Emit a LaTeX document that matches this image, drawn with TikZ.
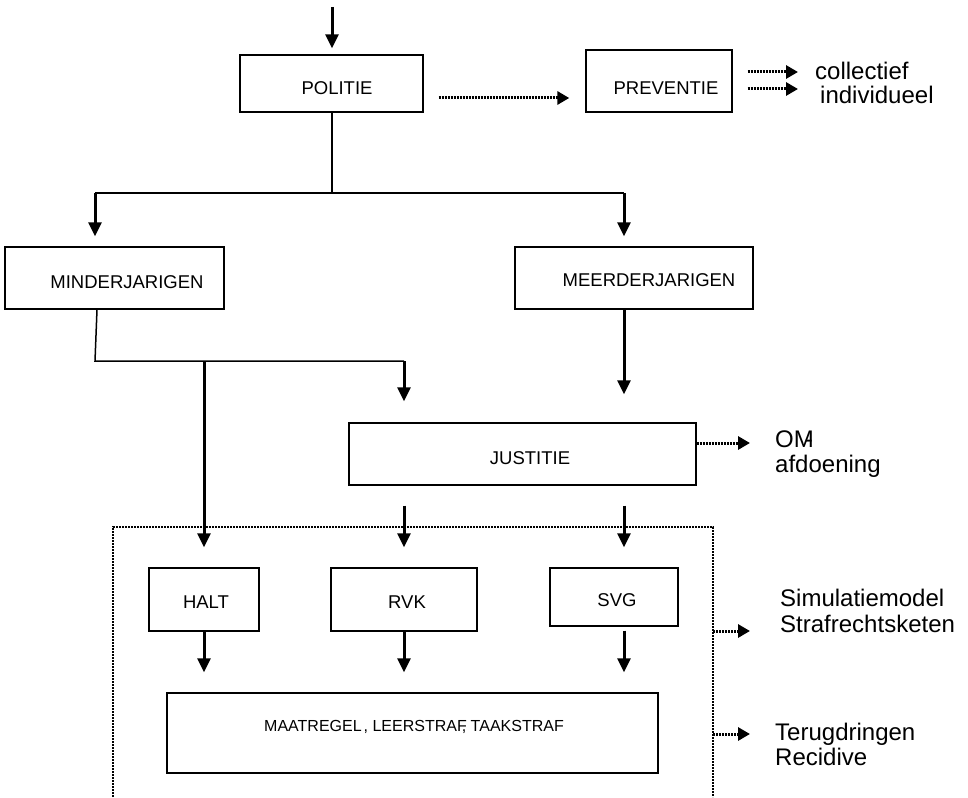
\documentclass[tikz,border=0pt]{standalone}
\usepackage{fontspec}
\setmainfont{Liberation Sans}
\usetikzlibrary{arrows.meta}

\begin{document}
\begin{tikzpicture}[x=1pt,y=-1pt,
  box/.style={draw,line width=1.4pt,inner sep=0pt},
  lbl/.style={font=\fontsize{18.5}{22}\selectfont,inner sep=0pt},
  side/.style={font=\fontsize{24}{28}\selectfont,inner sep=0pt,anchor=base west},
  conn/.style={line width=1.5pt},
  arr/.style={line width=3pt,-{Triangle[width=13pt,length=14pt]}},
  dots/.style={line width=3pt,dash pattern=on 2pt off 1pt,-{Triangle[width=13pt,length=12pt]}},
  frame/.style={line width=2.8pt,dash pattern=on 2pt off 1pt}]
\useasboundingbox (0,0) rectangle (968,797);

% boxes
\node[box,minimum width=183pt,minimum height=57pt,label={[lbl,xshift=5.5pt,yshift=-4.5pt]center:POLITIE}] (POL) at (331.5,83.5) {};
\node[box,minimum width=146pt,minimum height=62pt,label={[lbl,xshift=7pt,yshift=-7pt]center:PREVENTIE}] (PREV) at (659,81) {};
\node[box,minimum width=219pt,minimum height=62pt,label={[lbl,xshift=12.5pt,yshift=-4pt]center:MINDERJARIGEN}] (MIN) at (114.5,278) {};
\node[box,minimum width=238pt,minimum height=62pt,label={[lbl,xshift=15pt,yshift=-2pt]center:MEERDERJARIGEN}] (MEER) at (634,278) {};
\node[box,minimum width=347pt,minimum height=62pt,label={[lbl,xshift=7.5pt,yshift=-4pt]center:JUSTITIE}] (JUS) at (522.5,454) {};
\node[box,minimum width=110pt,minimum height=63pt,label={[lbl,xshift=2pt,yshift=-2.5pt]center:HALT}] (HALT) at (204,599.5) {};
\node[box,minimum width=146pt,minimum height=63pt,label={[lbl,xshift=3pt,yshift=-2.5pt]center:RVK}] (RVK) at (404,599.5) {};
\node[box,minimum width=128pt,minimum height=58pt,label={[lbl,xshift=3pt,yshift=-3pt]center:SVG}] (SVG) at (614,597) {};
\node[box,minimum width=491pt,minimum height=80pt,label={[font=\fontsize{16}{19}\selectfont,inner sep=0pt,xshift=1.5pt,yshift=6pt]center:{MAATREGEL\kern2pt, LEERSTRAF\kern-5pt, TAAKSTRAF}}] (MAAT) at (412.5,733) {};

% side texts
\node[side] (COLL) at (815,80) {collectief};
\node[side] (IND) at (820,103) {individueel};
\node[side] (OM) at (775,447) {OM\kern-9pt-};
\node[side] (AFD) at (775,472) {afdoening};
\node[side] (SIM) at (780,606) {Simulatiemodel};
\node[side] (STR) at (780,632) {Strafrechtsketen};
\node[side] (TER) at (775,740) {Terugdringen};
\node[side] (REC) at (775,765) {Recidive};

\coordinate (IN) at (332,7);
\coordinate (SPL) at (332,193);
\coordinate (SL) at (95,193);
\coordinate (SR) at (624,193);
\coordinate (MB) at (95,361);
\coordinate (MJ) at (404,361);
\coordinate (MH) at (204,361);
\coordinate (F1) at (713,631);
\coordinate (F2) at (713,734);

% connectors
\draw[arr,shorten >=6pt] (IN) -- (IN |- POL.north);
\draw[conn] (POL.south -| IN) -- (SPL);
\draw[conn] (SL) -- (SR);
\draw[arr,shorten >=10pt] (SL) -- (SL |- MIN.north);
\draw[arr,shorten >=10pt] (SR) -- (SR |- MEER.north);
\draw[conn] ([xshift=-17.5pt]MIN.south) -- (MB) -- (MJ);
\draw[arr,shorten >=21pt] (MJ) -- (MJ |- JUS.north);
\draw[arr,shorten >=20pt] (MH) -- (MH |- HALT.north);
\draw[arr,shorten >=28pt] (MEER.south -| SR) -- (SR |- JUS.north);
\draw[arr,shorten <=20pt,shorten >=20pt] (JUS.south -| RVK) -- (RVK.north);
\draw[arr,shorten <=20pt,shorten >=20pt] (JUS.south -| SR) -- (SVG.north -| SR);
\draw[arr,shorten >=20pt] (HALT.south) -- (HALT.south |- MAAT.north);
\draw[arr,shorten >=20pt] (RVK.south) -- (RVK.south |- MAAT.north);
\draw[arr,shorten <=4pt,shorten >=20pt] (SVG.south -| SR) -- (MAAT.north -| SR);

% dotted
\draw[dots,shorten <=15pt,shorten >=16pt] ([yshift=-14.5pt]POL.east) -- ([yshift=-14.5pt]POL.east -| PREV.west);
\draw[dots,shorten <=15pt,shorten >=17pt] ([yshift=9pt]PREV.east) -- ([yshift=9pt]PREV.east -| COLL.west);
\draw[dots,shorten <=15pt,shorten >=22pt] ([yshift=-8pt]PREV.east) -- ([yshift=-8pt]PREV.east -| IND.west);
\draw[dots,shorten >=25pt] ([yshift=11pt]JUS.east) -- ([yshift=11pt]JUS.east -| OM.west);
\draw[frame] (113,797) -- (113,527) -- (713,527) -- (713,797);
\draw[dots,shorten >=30pt] (F1) -- (F1 -| SIM.west);
\draw[dots,shorten >=25pt] (F2) -- (F2 -| TER.west);

\end{tikzpicture}
\end{document}
